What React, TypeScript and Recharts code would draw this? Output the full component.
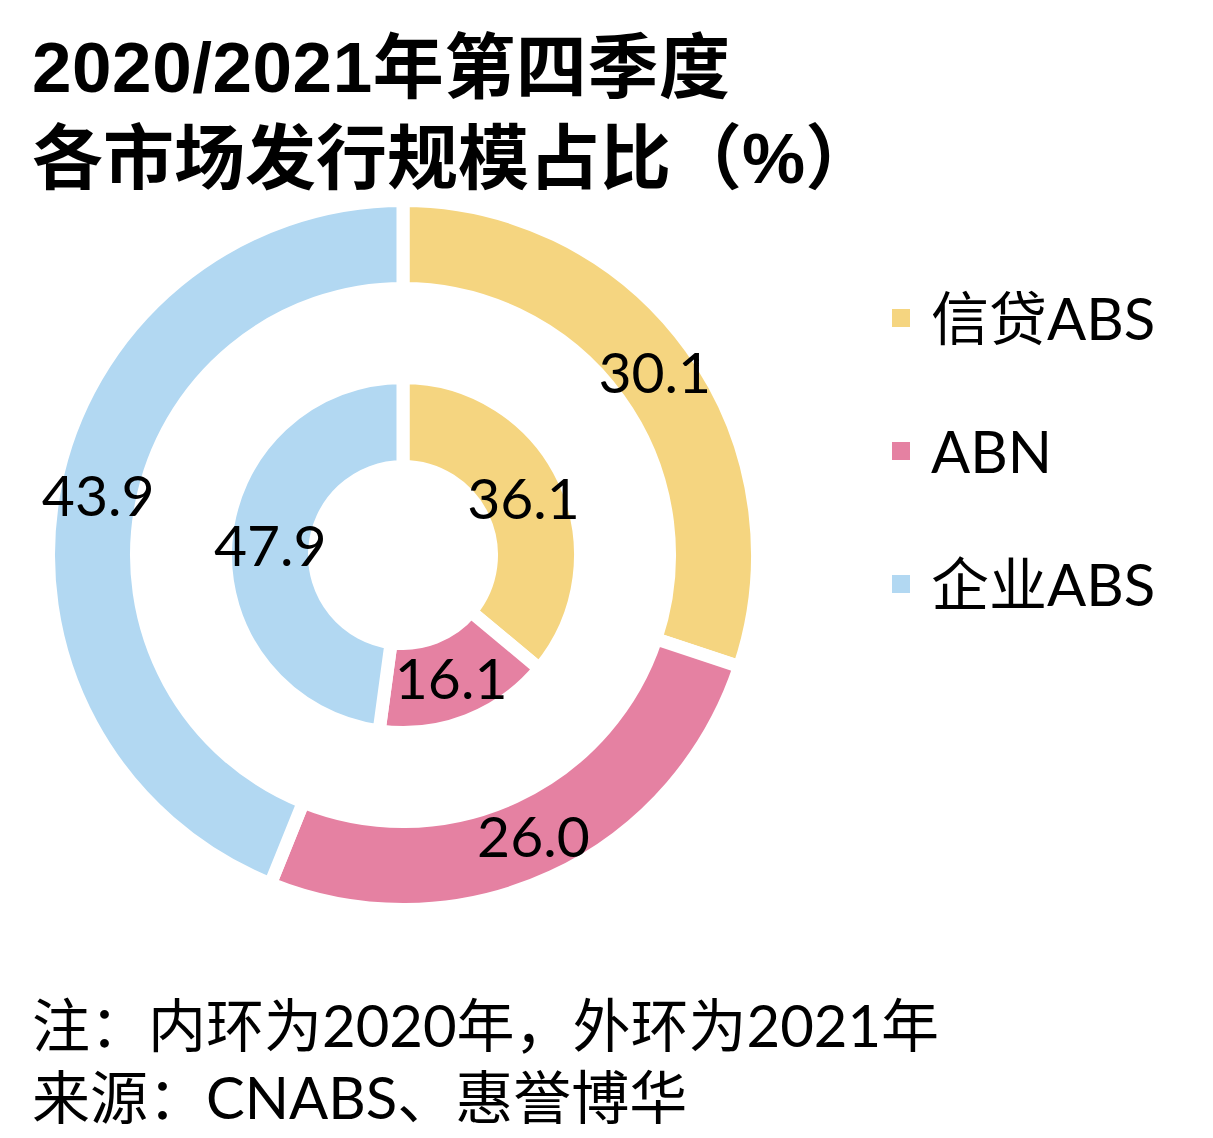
import React from "react";
import { Pie, PieChart, Cell, Legend } from "recharts";

const categories = ["信贷ABS", "ABN", "企业ABS"];
const colors = ["#F5D580", "#E581A2", "#B2D8F2"];
const inner2020 = [36.1, 16.1, 47.9];
const outer2021 = [30.1, 26.0, 43.9];

const titleLines = ["2020/2021年第四季度", "各市场发行规模占比（%）"];
const noteLines = ["注：内环为2020年，外环为2021年", "来源：CNABS、惠誉博华"];

const innerData = categories.map((name, i) => ({ name, value: inner2020[i] }));
const outerData = categories.map((name, i) => ({ name, value: outer2021[i] }));

const FONT = "Lato, 'Noto Sans CJK SC', sans-serif";
const RAD = Math.PI / 180;

function renderLabel(props: any) {
  const { cx, cy, midAngle, innerRadius, outerRadius, value } = props;
  const r = (innerRadius + outerRadius) / 2;
  const x = cx + r * Math.cos(-midAngle * RAD);
  const y = cy + r * Math.sin(-midAngle * RAD);
  return (
    <text x={x} y={y} dy={20} textAnchor="middle" fill="#000" fontSize={57} fontFamily={FONT}>
      {Number(value).toFixed(1)}
    </text>
  );
}

function LegendBox() {
  return (
    <div style={{ fontFamily: FONT, fontSize: 58, color: "#000" }}>
      {categories.map((name, i) => (
        <div key={name} style={{ display: "flex", alignItems: "center", height: 133 }}>
          <span style={{ width: 18, height: 18, background: colors[i], marginRight: 21, display: "inline-block" }} />
          <span style={{ lineHeight: "58px" }}>{name}</span>
        </div>
      ))}
    </div>
  );
}

export default function App() {
  return (
    <div style={{ position: "absolute", left: 0, top: 0, width: 1213, height: 1138, background: "#fff" }}>
      <PieChart width={1213} height={1138} margin={{ top: 0, right: 0, bottom: 0, left: 0 }}>
        <Pie
          data={innerData}
          dataKey="value"
          nameKey="name"
          cx={403}
          cy={555}
          innerRadius={88.5}
          outerRadius={177.5}
          startAngle={90}
          endAngle={-270}
          stroke="#fff"
          strokeWidth={13}
          label={renderLabel}
          labelLine={false}
          isAnimationActive={false}
        >
          {innerData.map((d, i) => (
            <Cell key={d.name} fill={colors[i]} />
          ))}
        </Pie>
        <Pie
          data={outerData}
          dataKey="value"
          nameKey="name"
          cx={403}
          cy={555}
          innerRadius={266.5}
          outerRadius={354.5}
          startAngle={90}
          endAngle={-270}
          stroke="#fff"
          strokeWidth={13}
          label={renderLabel}
          labelLine={false}
          isAnimationActive={false}
        >
          {outerData.map((d, i) => (
            <Cell key={d.name} fill={colors[i]} />
          ))}
        </Pie>
        <Legend
          layout="vertical"
          content={() => <LegendBox />}
          wrapperStyle={{ position: "absolute", left: 892, top: 251, width: 300 }}
        />
      </PieChart>
      <svg width={1213} height={1138} style={{ position: "absolute", left: 0, top: 0, pointerEvents: "none" }}>
        <g fontFamily="'Liberation Sans', 'Noto Sans CJK SC', sans-serif" fontWeight="bold" fontSize={71} fill="#000">
          <text x={32} y={92} textLength={698} lengthAdjust="spacing">{titleLines[0]}</text>
          <text x={32} y={183}>{titleLines[1]}</text>
        </g>
        <g fontFamily={FONT} fontSize={58} fill="#000">
          <text x={32} y={1047}>{noteLines[0]}</text>
          <text x={32} y={1119}>{noteLines[1]}</text>
        </g>
      </svg>
    </div>
  );
}
